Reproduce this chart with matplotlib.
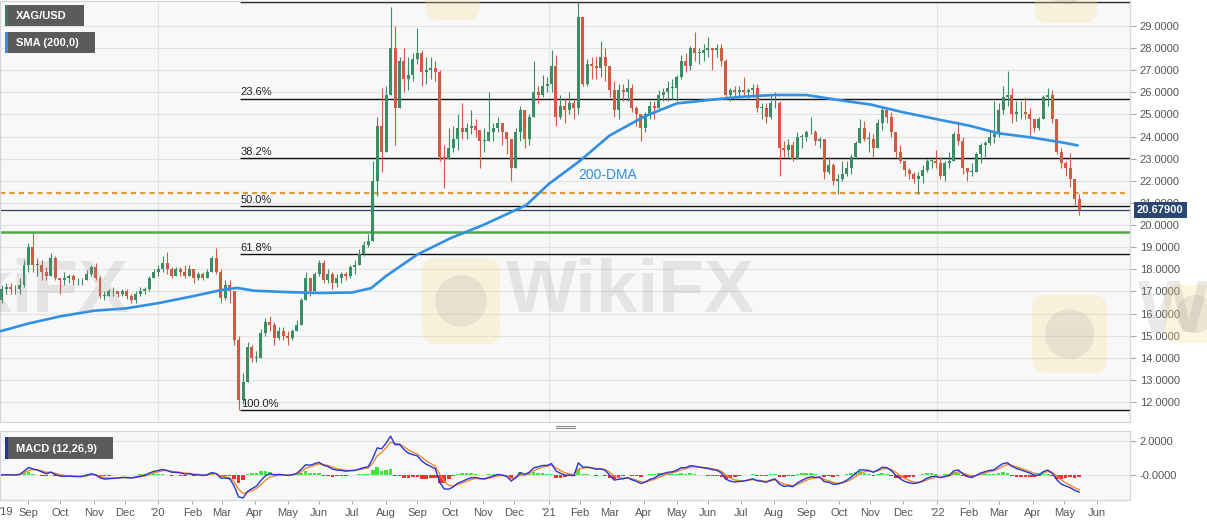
import numpy as np
import pandas as pd
import matplotlib
matplotlib.use('Agg')
import matplotlib.pyplot as plt
from matplotlib.patches import Rectangle, FancyBboxPatch, Circle
from matplotlib.lines import Line2D
from matplotlib.transforms import blended_transform_factory, IdentityTransform

plt.rcParams['font.family'] = ['Liberation Sans', 'DejaVu Sans']

# ---------------- data (3-business-day candles, from 2019-08-06) ----------------
start = '2019-08-06'
block_days = 3
first_open = 16.6

closes = [
    17.1, 17.2, 17.1, 17.1, 17.3, 18.2, 19.0,            # Aug 2019
    18.2, 18.2, 17.9, 17.7, 18.5, 17.6, 17.5,            # Sep
    17.6, 17.7, 17.5, 17.5, 17.5, 17.8, 18.1,            # Oct
    17.6, 16.8, 16.8, 17.0, 17.0, 16.9, 17.0,            # Nov
    16.8, 16.6, 16.9, 17.0, 17.1, 17.6, 17.9, 18.0,      # Dec
    18.3, 18.0, 17.7, 18.0, 17.9, 17.7, 18.0,            # Jan 2020
    17.6, 17.8, 17.6, 17.9, 18.5, 17.9, 16.7,            # Feb
    17.3, 17.0, 14.8, 12.1, 12.9, 14.5, 14.0,            # Mar
    14.0, 15.1, 15.6, 15.5, 14.9, 15.2, 15.0, 14.9,      # Apr
    15.2, 15.5, 16.6, 17.6, 17.0, 17.8, 18.3,            # May
    17.5, 17.8, 17.4, 17.6, 17.8, 17.7, 18.1,            # Jun
    18.2, 18.7, 19.1, 19.3, 22.0, 24.5, 23.3, 25.9,      # Jul
    28.0, 25.3, 27.4, 26.6, 26.8, 27.5, 27.8,            # Aug
    26.9, 27.0, 27.1, 26.9, 23.1, 23.0, 23.5,            # Sep
    23.9, 24.4, 24.2, 24.4, 24.5, 24.3, 23.8,            # Oct
    23.8, 24.2, 24.4, 24.6, 24.2, 23.9, 22.6,            # Nov
    24.2, 25.2, 23.9, 24.9, 26.0, 25.9, 26.3, 26.4,      # Dec
    27.2, 24.9, 25.4, 25.2, 25.5, 25.3, 29.4,            # Jan 2021
    26.4, 27.3, 27.2, 27.1, 27.6, 27.2, 26.1,            # Feb
    25.2, 26.1, 26.0, 26.2, 25.3, 25.0, 24.4,            # Mar
    25.0, 25.4, 25.3, 25.9, 26.0, 26.2, 26.2, 26.7,      # Apr
    27.4, 27.2, 28.0, 27.8, 27.8, 27.9, 28.0,            # May
    27.9, 28.0, 27.4, 25.9, 26.1, 26.0, 26.1,            # Jun
    26.0, 26.1, 26.2, 25.3, 25.3, 24.9, 25.5,            # Jul
    25.5, 23.5, 23.4, 23.6, 23.0, 24.0, 24.0, 24.2,      # Aug
    24.2, 23.8, 23.9, 22.4, 22.7, 22.0, 22.1,            # Sep
    22.3, 22.6, 23.1, 23.7, 24.4, 23.9, 23.9,            # Oct
    23.5, 24.6, 25.2, 24.9, 24.2, 23.3, 22.9,            # Nov
    22.5, 22.3, 22.1, 22.2, 22.5, 22.9, 22.9, 22.8,      # Dec
    22.2, 22.8, 22.9, 24.1, 23.8, 22.6, 22.4,            # Jan 2022
    22.4, 23.2, 23.6, 23.7, 24.0, 24.1, 25.2,            # Feb
    25.8, 25.9, 25.0, 25.1, 25.1, 25.0, 24.8,            # Mar
    24.4, 24.8, 25.8, 25.9, 24.8, 23.3, 22.8,            # Apr
    22.6, 22.1, 21.2, 20.679,                            # May
]

highs = [
    17.3, 17.4, 17.4, 17.3, 17.6, 18.4, 19.2,
    19.65, 18.5, 18.4, 18.1, 18.75, 18.6, 17.6,
    17.9, 17.8, 17.8, 17.6, 17.6, 17.95, 18.2,
    18.3, 17.7, 17.0, 17.1, 17.2, 17.0, 17.1,
    17.1, 16.9, 17.0, 17.2, 17.2, 17.7, 18.0, 18.2,
    18.6, 18.8, 18.1, 18.1, 18.1, 18.2, 18.2,
    18.0, 17.9, 17.9, 18.0, 18.6, 18.95, 18.0,
    17.5, 17.5, 17.0, 15.0, 13.3, 14.7, 14.6,
    14.3, 15.3, 15.8, 15.9, 15.6, 15.4, 15.4, 15.2,
    15.3, 15.7, 16.7, 17.9, 17.6, 17.9, 18.4,
    18.4, 18.0, 17.9, 17.8, 17.9, 17.9, 18.2,
    18.4, 18.9, 19.3, 19.6, 22.9, 24.9, 26.2, 26.3,
    29.86, 29.0, 27.6, 28.0, 27.6, 27.8, 28.9,
    27.9, 27.6, 27.6, 27.4, 27.0, 23.6, 24.4,
    24.5, 25.0, 25.5, 24.6, 25.2, 24.8, 24.3,
    24.4, 26.0, 24.6, 24.9, 24.6, 24.2, 23.2,
    24.4, 25.4, 25.1, 25.0, 27.4, 26.3, 26.8, 26.7,
    27.9, 27.7, 25.9, 25.7, 26.0, 25.7, 30.07,
    29.4, 27.5, 27.6, 27.6, 28.3, 28.0, 27.2,
    26.5, 26.4, 26.4, 26.6, 26.4, 25.4, 25.0,
    25.1, 25.6, 25.6, 26.1, 26.2, 26.5, 26.6, 26.8,
    27.7, 27.8, 28.1, 28.75, 28.0, 28.2, 28.5,
    28.0, 28.2, 28.2, 27.5, 26.2, 26.3, 26.3,
    26.7, 26.2, 26.4, 26.4, 25.5, 25.5, 25.9,
    26.0, 25.6, 23.8, 23.9, 23.8, 24.2, 24.1, 24.3,
    24.9, 24.3, 24.0, 23.9, 23.1, 22.8, 22.3,
    22.9, 22.9, 23.2, 23.8, 24.8, 24.7, 24.2,
    24.1, 24.8, 25.4, 25.35, 25.1, 24.2, 23.6,
    22.9, 22.6, 22.4, 22.4, 22.7, 23.0, 23.1, 23.4,
    23.1, 22.9, 23.3, 24.2, 24.7, 24.0, 22.6,
    22.8, 23.3, 23.7, 23.8, 24.3, 25.6, 25.5,
    26.3, 26.95, 26.2, 25.6, 25.6, 25.8, 25.3,
    24.8, 24.9, 25.9, 26.2, 26.1, 24.8, 23.5,
    22.9, 23.25, 21.9, 21.4,
]

lows = [
    16.5, 16.9, 16.9, 16.9, 16.9, 17.2, 17.9,
    17.9, 17.7, 17.5, 17.5, 17.7, 17.5, 16.9,
    17.3, 17.4, 17.3, 17.3, 17.3, 17.5, 17.7,
    17.5, 16.7, 16.6, 16.8, 16.8, 16.75, 16.8,
    16.65, 16.5, 16.5, 16.8, 16.9, 17.0, 17.6, 17.7,
    17.9, 17.8, 17.6, 17.7, 17.7, 17.6, 17.7,
    17.4, 17.5, 17.5, 17.6, 17.9, 17.8, 16.5,
    16.6, 16.5, 14.6, 11.64, 11.9, 12.9, 13.8,
    13.8, 14.1, 15.0, 15.2, 14.6, 14.8, 14.8, 14.6,
    14.8, 15.3, 15.5, 16.7, 16.8, 17.2, 17.7,
    17.4, 17.4, 17.1, 17.2, 17.4, 17.5, 17.6,
    17.8, 18.2, 18.6, 19.0, 19.7, 21.3, 22.4, 23.6,
    26.0, 23.6, 25.3, 26.0, 26.1, 26.5, 27.3,
    26.3, 26.4, 26.6, 26.5, 22.9, 21.68, 23.0,
    23.3, 23.4, 23.9, 23.9, 24.1, 24.0, 22.6,
    23.3, 24.0, 23.8, 24.2, 23.6, 23.2, 22.0,
    22.6, 23.8, 23.5, 23.6, 25.2, 25.5, 25.8, 26.0,
    26.0, 24.5, 24.8, 24.6, 25.0, 24.8, 25.0,
    26.3, 26.3, 26.6, 26.6, 26.7, 26.5, 25.8,
    24.9, 24.8, 25.6, 25.6, 25.1, 24.5, 23.8,
    24.2, 24.8, 24.8, 25.2, 25.6, 25.6, 25.7, 25.6,
    26.6, 26.9, 27.0, 27.4, 27.3, 27.4, 27.6,
    27.0, 27.6, 27.2, 25.7, 25.6, 25.7, 25.7,
    25.9, 25.7, 25.8, 25.1, 24.8, 24.6, 24.8,
    25.3, 22.2, 23.1, 23.1, 22.9, 23.2, 23.5, 23.8,
    24.1, 23.6, 23.5, 22.1, 22.3, 21.8, 21.42,
    22.0, 22.2, 22.3, 23.0, 23.8, 23.8, 23.3,
    23.1, 23.5, 24.3, 24.6, 24.0, 23.1, 22.8,
    22.2, 22.1, 21.9, 21.42, 21.9, 22.4, 22.6, 22.6,
    22.1, 22.0, 22.6, 22.9, 23.6, 22.3, 22.0,
    22.2, 22.4, 22.8, 23.1, 23.6, 23.7, 24.0,
    25.0, 25.4, 24.6, 24.7, 24.8, 24.8, 24.0,
    24.2, 24.3, 24.8, 25.4, 24.6, 23.2, 22.6,
    22.2, 21.7, 20.9, 20.46,
]

sma_dates = ['2019-08-06', '2019-09-02', '2019-10-01', '2019-11-01', '2019-12-02',
             '2020-01-01', '2020-02-03', '2020-03-02', '2020-03-16', '2020-04-01',
             '2020-05-01', '2020-06-01', '2020-07-01', '2020-07-20', '2020-08-03',
             '2020-09-01', '2020-10-01', '2020-11-02', '2020-12-01', '2020-12-11',
             '2021-01-01', '2021-02-01', '2021-03-01', '2021-04-01', '2021-05-03',
             '2021-06-01', '2021-07-01', '2021-08-02', '2021-09-01', '2021-10-01',
             '2021-11-01', '2021-12-01', '2022-01-03', '2022-02-01', '2022-03-01',
             '2022-04-01', '2022-05-02', '2022-05-13']
sma_values = [15.2, 15.55, 15.87, 16.13, 16.23,
              16.47, 16.78, 17.07, 17.16, 17.03,
              16.97, 16.93, 16.95, 17.15, 17.7,
              18.67, 19.4, 20.0, 20.65, 20.9,
              21.85, 22.9, 24.05, 24.9, 25.5,
              25.65, 25.8, 25.88, 25.88, 25.65,
              25.45, 25.1, 24.78, 24.5, 24.15,
              23.95, 23.72, 23.6]

fib_high = 30.07
fib_low = 11.64
fib_ratios = [0.0, 0.236, 0.382, 0.5, 0.618, 1.0]
fib_labels = ['0.0%', '23.6%', '38.2%', '50.0%', '61.8%', '100.0%']
fib_start = '2020-03-18'
last_price = 20.679
orange_level = 21.44
green_level = 19.70
price_ticks = list(range(12, 30))
macd_ticks = [2.0, 0.0]
macd_tick_labels = ['2.0000', '-0.0000']

# ---------------- helpers ----------------
W, H = 1207, 526
def fx(x): return x / W
def fy(y): return 1 - y / H
def bidx(d):
    return int(np.busday_count(np.datetime64(start), np.datetime64(pd.Timestamp(d).date())))

n = len(closes)
xs = np.arange(n) * block_days + 1.0
opens = np.r_[first_open, np.array(closes[:-1])]
cl = np.array(closes)
hi = np.maximum(np.array(highs[:n]), np.maximum(opens, cl))
lo = np.minimum(np.array(lows[:n]), np.minimum(opens, cl))
up = cl >= opens
UP, DN = '#3a8d64', '#cf5b43'
cols = np.where(up, UP, DN)

T0, T1 = -0.1, 758.2

fig = plt.figure(figsize=(12.07, 5.26), dpi=100)
fig.patch.set_facecolor('white')
ax = fig.add_axes([0, fy(422), 1130 / W, 421 / H])
axm = fig.add_axes([0, fy(500), 1130 / W, 69 / H])

for a in (ax, axm):
    a.set_facecolor('#f8f8f8')
    a.set_xlim(T0, T1)
    for s in a.spines.values():
        s.set_color('#d3d6de')
        s.set_linewidth(0.9)

# year grid lines
year_pos = [bidx(d) for d in ['2020-01-01', '2021-01-01', '2022-01-03']]
for yp in year_pos:
    ax.axvline(yp, color='#e3e3e3', lw=0.9, zorder=0.5)
    axm.axvline(yp, color='#e3e3e3', lw=0.9, zorder=0.5)

# ---------------- main panel ----------------
ax.set_ylim(11.098, 30.13)
ax.set_yticks(price_ticks)
ax.set_yticklabels([f'{v:.4f}' for v in price_ticks])
ax.yaxis.tick_right()
ax.tick_params(axis='y', direction='out', length=4, width=0.8, color='#aaaaaa',
               labelcolor='#555555', labelsize=8, pad=3)
ax.set_xticks([])
ax.grid(axis='y', color='#e2e2e2', lw=0.8, zorder=0.5)
ax.set_axisbelow(True)

# candles
ax.vlines(xs, lo, hi, colors=cols, lw=0.8, zorder=3)
body_h = np.maximum(np.abs(cl - opens), 0.03)
body_b = np.minimum(cl, opens)
ax.bar(xs, body_h, bottom=body_b, width=2.0, color=cols, lw=0, zorder=3)

# SMA 200
sma_t = [bidx(d) for d in sma_dates]
ax.plot(sma_t, sma_values, color='#3190e6', lw=1.9, zorder=4, solid_capstyle='round')
ax.text((578 - 0.19) / 1.4902, 22.26, '200-DMA', color='#2f8de4', fontsize=10,
        ha='left', va='center', zorder=5)

# Fibonacci levels
fib_t = bidx(fib_start)
for r, lab in zip(fib_ratios, fib_labels):
    lvl = fib_high - r * (fib_high - fib_low)
    ax.hlines(lvl, fib_t, T1, color='#111111', lw=1.0, zorder=2)
    ax.text(fib_t + 0.5, lvl + 0.06, lab, fontsize=8, color='#222222',
            ha='left', va='bottom', zorder=6, clip_on=True)

# horizontal levels
ax.axhline(green_level, color='#55a84a', lw=1.8, zorder=2)
ax.axhline(last_price, color='#2d3e63', lw=0.9, zorder=2)
ax.axhline(orange_level, xmin=0, xmax=1125 / 1130, color='#e39a3b', lw=1.6,
           ls=(0, (2.4, 1.8)), zorder=2)

# current price tag
tr = blended_transform_factory(ax.transAxes, ax.transData)
ax.text(1 + 7 / 1130, last_price, f'{last_price:.5f}', transform=tr, ha='left', va='center',
        color='white', fontsize=8, fontweight='bold', clip_on=False, zorder=10,
        bbox=dict(boxstyle='square,pad=0.28', fc='#2b4670', ec='none'))

# ---------------- MACD panel ----------------
c = pd.Series(cl)
def blk_alpha(span):
    return 1 - (1 - 2 / (span + 1)) ** block_days
ema_fast = c.ewm(alpha=blk_alpha(12), adjust=False).mean()
ema_slow = c.ewm(alpha=blk_alpha(26), adjust=False).mean()
macd = ema_fast - ema_slow
signal = macd.ewm(alpha=blk_alpha(9), adjust=False).mean()
hist = macd - signal

axm.set_ylim(-1.47, 2.588)
axm.set_yticks(macd_ticks)
axm.set_yticklabels(macd_tick_labels)
axm.yaxis.tick_right()
axm.tick_params(axis='y', direction='out', length=4, width=0.8, color='#aaaaaa',
                labelcolor='#555555', labelsize=8, pad=3)
axm.grid(axis='y', color='#e2e2e2', lw=0.8, zorder=0.5)
axm.set_axisbelow(True)
hcol = np.where(hist >= 0, '#3ee83e', '#f03030')
axm.bar(xs, hist, width=2.5, color=hcol, lw=0, zorder=2)
axm.plot(xs, signal, color='#f08a32', lw=1.0, zorder=3)
axm.plot(xs, macd, color='#2436d0', lw=1.0, zorder=4)

months = pd.date_range('2019-09-01', '2022-06-01', freq='MS')
mt = [bidx(m) for m in months]
ml = [m.strftime("'%y") if m.month == 1 else m.strftime('%b') for m in months]
axm.set_xticks(mt)
axm.set_xticklabels(ml)
axm.tick_params(axis='x', direction='out', length=3, width=0.8, color='#aaaaaa',
                labelcolor='#555555', labelsize=8, pad=3)
fig.text(fx(-2), fy(512), "'19", ha='left', va='center', fontsize=8, color='#555555')

# divider handle
for yy in (425.5, 428.3):
    fig.add_artist(Line2D([fx(556), fx(575)], [fy(yy), fy(yy)], color='#8a8a8a', lw=0.8))

# ---------------- legend boxes ----------------
def legend_box(x0, y0, x1, y1, strip, text):
    fig.add_artist(Rectangle((fx(x0), fy(y1)), (x1 - x0) / W, (y1 - y0) / H,
                             transform=fig.transFigure, fc='#5b5b5b', ec='none', zorder=20))
    fig.add_artist(Rectangle((fx(x0), fy(y1)), 2.5 / W, (y1 - y0) / H,
                             transform=fig.transFigure, fc=strip, ec='none', zorder=21))
    fig.text(fx(x0 + 11), fy((y0 + y1) / 2 + 0.5), text, color='white', fontsize=8,
             fontweight='bold', ha='left', va='center', zorder=22)

legend_box(5, 5, 84, 26, '#3c7a66', 'XAG/USD')
legend_box(5, 32, 95, 53, '#3d8ddc', 'SMA (200,0)')
legend_box(5, 437, 113, 459, '#1f35a8', 'MACD (12,26,9)')

# ---------------- watermarks ----------------
ident = IdentityTransform()
def logo(x0, y0, w, h):
    fig.add_artist(FancyBboxPatch((x0, H - y0 - h), w, h, boxstyle='round,pad=0,rounding_size=14',
                                  transform=ident, fc='#f5dd8e', ec='none', alpha=0.28, zorder=15))
    fig.add_artist(Circle((x0 + w * 0.5, H - y0 - h * 0.5), min(w, h) * 0.33, transform=ident,
                          fc='#8a8080', ec='none', alpha=0.14, zorder=15))

logo(422, 258, 78, 86)
logo(1032, 295, 75, 78)
logo(1165, 285, 60, 58)
logo(425, -60, 55, 80)
logo(1035, -55, 62, 78)

for (xc, yc) in [(630, 292), (4, 292), (1262, 312)]:
    fig.text(fx(xc), fy(yc), 'WikiFX', ha='center', va='center', fontsize=54,
             fontweight='bold', color='#9c9090', alpha=0.2, zorder=16)

fig.savefig('out.png', dpi=100)
